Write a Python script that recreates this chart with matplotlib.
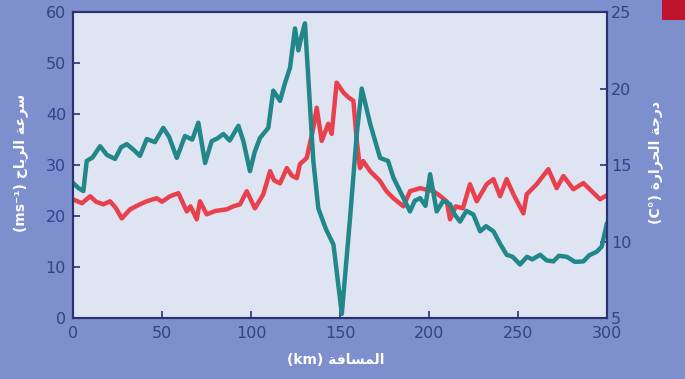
import matplotlib
matplotlib.use("Agg")
import matplotlib.pyplot as plt
from matplotlib.patches import Rectangle

# Wind speed (m/s), left axis
wind_km = [0, 3, 5.8, 7.7, 11, 15.2, 19, 23.6, 27, 30.2, 34, 37.6, 41.4, 46, 50.7, 54,
           58.3, 62.9, 67, 70.4, 74.2, 77.9, 81, 84.5, 88, 92.9, 95.7, 99.4, 102, 105,
           109.7, 112.5, 116.3, 119, 121.9, 124.7, 126.6, 128.5, 130.3, 135, 137.8,
           142, 146.3, 151, 155.6, 159.4, 162.2, 167, 172.5, 177, 180, 183.7, 189.3,
           192, 195, 198, 200.6, 204.3, 208, 211.8, 214, 217.4, 221, 224.9, 228.7,
           232, 236.2, 240, 243.6, 247, 251.1, 255, 258, 262.4, 266, 269.8, 273,
           277.4, 282, 286.7, 290, 294.2, 297, 299.8]
wind_speed = [26.5, 25.5, 24.9, 30.8, 31.5, 33.7, 32.0, 31.2, 33.5, 34.1, 33.0, 31.8, 35.1,
              34.5, 37.3, 35.5, 31.4, 35.7, 35.0, 38.3, 30.4, 34.7, 35.2, 36.1, 34.8,
              37.7, 34.7, 28.8, 32.5, 35.3, 37.3, 44.6, 42.6, 46.0, 49.1, 56.8, 52.5,
              55.5, 57.8, 30.8, 21.5, 17.5, 14.4, 0.8, 19.5, 36.1, 45.0, 38.0, 31.4,
              30.8, 27.5, 24.9, 20.9, 23.0, 23.5, 22.0, 28.2, 20.9, 23.0, 22.3, 20.5,
              18.9, 21.0, 20.3, 17.0, 18.0, 17.0, 14.5, 12.4, 12.0, 10.5, 12.0, 11.5,
              12.4, 11.3, 11.1, 12.2, 12.0, 11.0, 11.1, 12.3, 13.0, 14.0, 18.4]

# Temperature (°C), right axis
temp_km = [0, 5, 9.6, 13, 17, 20.8, 24, 27.4, 32, 37, 41.4, 47, 50, 54.5, 59.2, 63.9,
           66, 69.5, 71.3, 75.1, 80, 86.3, 90, 93.8, 97.6, 102.2, 106.9, 110.7, 113,
           116.3, 120.1, 123, 125.7, 127.5, 131.3, 135, 136.9, 139.7, 143.4, 145.3,
           148.1, 151.9, 155, 157.5, 159.4, 161.2, 163, 166.9, 172.5, 176, 180, 185.6,
           189.3, 195, 202.4, 206, 209.9, 211.8, 215, 219, 223, 226.8, 232.4,
           236.2, 239.9, 243.6, 247.4, 253, 254.9, 260.5, 267, 271.7, 275.5, 281.1,
           286.7, 291.4, 296.1, 298.9]
temperature = [12.76, 12.5, 12.96, 12.6, 12.43, 12.63, 12.2, 11.51, 12.1, 12.4, 12.63,
               12.83, 12.6, 12.96, 13.16, 11.97, 12.3, 11.45, 12.63, 11.78, 12.0, 12.1,
               12.3, 12.43, 13.29, 12.17, 13.09, 14.6, 14.0, 13.8, 14.8, 14.3, 14.14,
               15.07, 15.46, 17.43, 18.75, 16.58, 17.7, 17.04, 20.39, 19.74, 19.4,
               19.2, 16.58, 14.8, 15.26, 14.6, 13.95, 13.3, 12.83, 12.3, 13.29, 13.49,
               13.29, 13.0, 12.63, 11.45, 12.3, 12.17, 13.75, 12.63, 13.75,
               14.08, 12.96, 14.08, 13.09, 11.84, 13.09, 13.75, 14.73, 13.49, 14.28,
               13.42, 13.82, 13.29, 12.76, 12.96]

x_ticks = [0, 50, 100, 150, 200, 250, 300]
left_ticks = [0, 10, 20, 30, 40, 50, 60]
right_ticks = [5, 10, 15, 20, 25]

# Arabic labels (presentation forms, visual order)
xlabel = "(km) " + "\uFE94\uFED3\uFE8E\uFEB4\uFEE4\uFEDF\uFE8D"
ylabel_left = "(ms\u207b\u00b9) " + "\uFEA1\uFE8E\uFEF3\uFEAE\uFEDF\uFE8D" + " " + "\uFE94\uFECB\uFEAE\uFEB3"
ylabel_right = "(C\u00b0) " + "\uFE93\uFEAD\uFE8D\uFEAE\uFEA4\uFEDF\uFE8D" + " " + "\uFE94\uFE9F\uFEAD\uFEA9"

fig_bg = "#7d8fcd"
ax_bg = "#dfe4f2"
green = "#228789"
red = "#e8404c"
tick_col = "#34428a"
spine_col = "#2a3272"

fig = plt.figure(figsize=(6.85, 3.79), dpi=100, facecolor=fig_bg)
ax = fig.add_axes([0.1066, 0.161, 0.7796, 0.807])
ax2 = ax.twinx()

ax2.patch.set_visible(True)
ax2.patch.set_facecolor(ax_bg)
ax2.plot(temp_km, temperature, color=red, lw=3.2, solid_joinstyle="round")
ax2.set_ylim(5, 25)
ax2.set_yticks(right_ticks)

ax.plot(wind_km, wind_speed, color=green, lw=3.2, solid_joinstyle="round")
ax.set_xlim(0, 300)
ax.set_ylim(0, 60)
ax.set_xticks(x_ticks)
ax.set_yticks(left_ticks)
ax2.set_zorder(0)
ax.set_zorder(1)
ax.patch.set_visible(False)

for a in (ax, ax2):
    for s in a.spines.values():
        s.set_color(spine_col)
        s.set_linewidth(1.5)
    a.tick_params(direction="in", length=5, width=1.2, color=spine_col,
                  labelcolor=tick_col, labelsize=11.5)
ax.tick_params(axis="x", pad=6)
ax.tick_params(axis="y", pad=5)
ax2.tick_params(axis="y", pad=3)

fig.text(0.03, 0.57, ylabel_left, rotation=90, color="white", fontsize=10,
         fontweight="bold", ha="center", va="center", family="DejaVu Sans")
fig.text(0.957, 0.57, ylabel_right, rotation=90, color="white", fontsize=10,
         fontweight="bold", ha="center", va="center", family="DejaVu Sans")
fig.text(0.49, 0.05, xlabel, color="white", fontsize=10, fontweight="bold",
         ha="center", va="center", family="DejaVu Sans")

fig.patches.append(Rectangle((0.966, 0.947), 0.04, 0.06, transform=fig.transFigure,
                             facecolor="#c0142c", edgecolor="none"))

fig.savefig("out.png", dpi=100, facecolor=fig_bg)
